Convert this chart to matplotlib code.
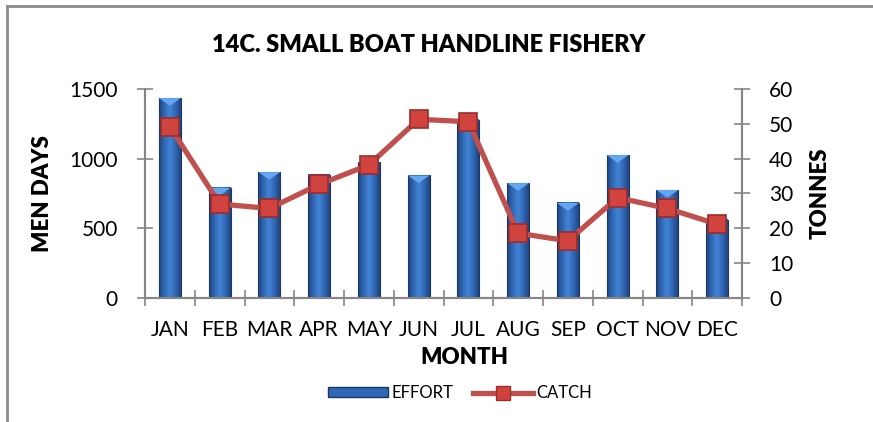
import numpy as np
import matplotlib.pyplot as plt
from matplotlib.colors import LinearSegmentedColormap
from matplotlib.patches import Polygon, Rectangle
from matplotlib.lines import Line2D

plt.rcParams['font.family'] = ['Lato', 'DejaVu Sans']

# donnees
months = ["JAN", "FEB", "MAR", "APR", "MAY", "JUN", "JUL", "AUG", "SEP", "OCT", "NOV", "DEC"]
effort = [1435, 790, 904, 883, 975, 880, 1280, 825, 682, 1026, 775, 560]
catch = [49.2, 27.0, 25.7, 32.6, 38.2, 51.3, 50.6, 18.6, 16.4, 28.8, 25.7, 21.2]

grey = "#868686"
bar_cmap = LinearSegmentedColormap.from_list(
    "cyl", ["#1f4580", "#3068b5", "#4384d6", "#3068b5", "#1f4580"])

fig = plt.figure(figsize=(8.73, 4.22), dpi=100)
ax = fig.add_axes([145 / 873, 1 - 298 / 422, 597 / 873, 209 / 422])
ax2 = ax.twinx()

x = np.arange(len(months))
w = 0.44
grad = np.linspace(0, 1, 64).reshape(1, -1)
for xi, h in zip(x, effort):
    ax.imshow(grad, cmap=bar_cmap, aspect="auto", interpolation="bicubic",
              extent=(xi - w / 2, xi + w / 2, 0, h), zorder=2)
    ax.add_patch(Rectangle((xi - w / 2, 0), w, h, fill=False,
                           edgecolor="#1a3766", lw=0.8, zorder=3))
    ax.add_patch(Polygon([(xi - w / 2, h), (xi + w / 2, h), (xi, h - 55)],
                         closed=True, facecolor="#64a6f2", edgecolor="none", zorder=3))

ax.set_xlim(-0.5, len(months) - 0.5)
ax.set_ylim(0, 1500)
ax.set_yticks([0, 500, 1000, 1500])
ax.set_xticks(x)
ax.set_xticklabels(months)
ax.set_xticks(np.arange(-0.5, len(months)), minor=True)
ax.tick_params(axis="x", which="major", length=0, pad=16, labelsize=15)
ax.tick_params(axis="x", which="minor", direction="inout", length=11, width=1.2, color=grey)
ax.tick_params(axis="y", direction="inout", length=11, width=1.2, color=grey,
               labelsize=15, pad=14)

ax2.plot(x, catch, color="#c0504d", lw=3.8, marker="s", markersize=13,
         markerfacecolor="#d0433f", markeredgecolor="#9b2d2a", markeredgewidth=1.2,
         zorder=5)
ax2.set_ylim(0, 60)
ax2.set_yticks(range(0, 61, 10))
ax2.tick_params(axis="y", direction="inout", length=11, width=1.2, color=grey,
                labelsize=15, pad=14)

for a in (ax, ax2):
    a.spines["top"].set_visible(False)
    for s in ("left", "right", "bottom"):
        a.spines[s].set_color(grey)
        a.spines[s].set_linewidth(1.5)

ax.set_ylabel("MEN DAYS", fontsize=16, fontweight="heavy", labelpad=12)
ax2.set_ylabel("TONNES", fontsize=16, fontweight="heavy", labelpad=12, rotation=90)
fig.text(464 / 873, 1 - 358 / 422, "MONTH", ha="center", va="center",
         fontsize=16, fontweight="heavy")
fig.text(429 / 873, 1 - 45 / 422, "14C. SMALL BOAT HANDLINE FISHERY",
         ha="center", va="center", fontsize=17, fontweight="heavy")

# legende
h_eff = Rectangle((0, 0), 1, 1, facecolor="#3068b5", edgecolor="#1a3766")
h_cat = Line2D([], [], color="#c0504d", lw=3.8, marker="s", markersize=10,
               markerfacecolor="#d0433f", markeredgecolor="#9b2d2a")
fig.legend([h_eff, h_cat], ["EFFORT", "CATCH"], loc="center",
           bbox_to_anchor=(460 / 873, 1 - 393 / 422), ncol=2, frameon=False,
           fontsize=12, handlelength=3.6, handleheight=0.5, columnspacing=1.2,
           handletextpad=0.2)

# cadre du graphique
fig.add_artist(Line2D([7 / 873, 1], [1 - 6 / 422] * 2, color="#8c8c8c", lw=2,
                      transform=fig.transFigure))
fig.add_artist(Line2D([7 / 873] * 2, [0, 1 - 6 / 422], color="#8c8c8c", lw=2,
                      transform=fig.transFigure))

fig.savefig("out.png", dpi=100)
